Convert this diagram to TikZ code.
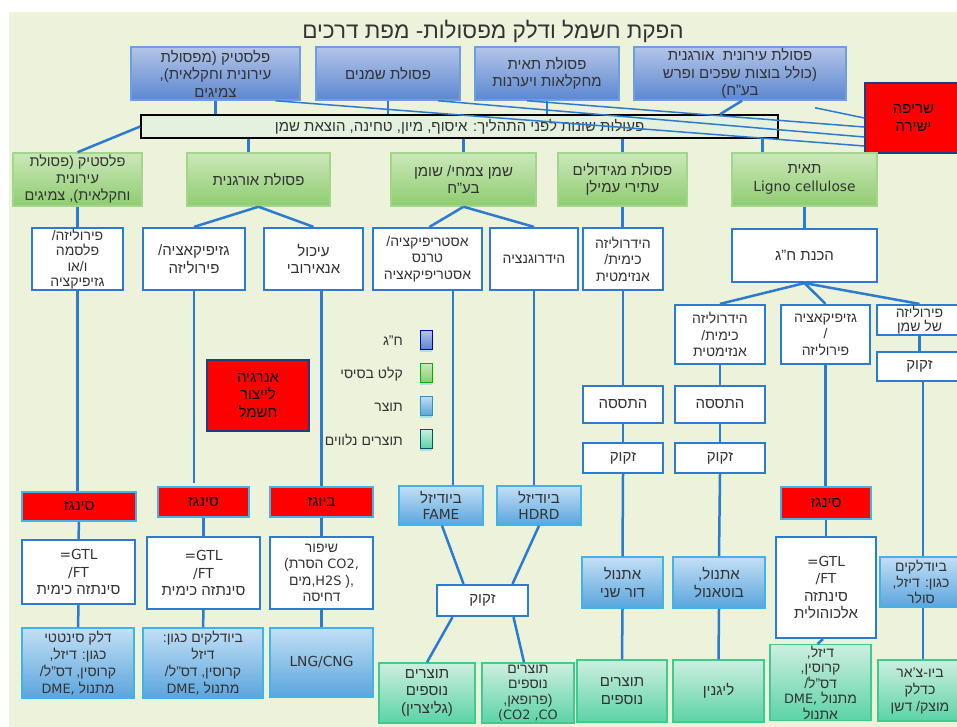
\documentclass[tikz,border=0pt]{standalone}
\usepackage{fontspec}
\setmainfont{Liberation Sans}[Script=Hebrew]
\newfontfamily\latfont{DejaVu Sans}[Scale=0.92]
\newfontfamily\plainfont{Liberation Sans}
\TeXXeTstate=1
\usetikzlibrary{positioning}
\usetikzlibrary{shadows}
\newcommand{\rl}[1]{\beginR#1\endR}
\definecolor{panel}{HTML}{EDF2DA}
\definecolor{txt}{HTML}{333333}
\definecolor{srctop}{HTML}{B3C5E8}
\definecolor{srcbot}{HTML}{5C87D1}
\definecolor{srcline}{HTML}{6C9FE0}
\definecolor{basetop}{HTML}{CBE8B9}
\definecolor{basebot}{HTML}{8ECC70}
\definecolor{baseline}{HTML}{A3D68A}
\definecolor{outtop}{HTML}{C3DFF5}
\definecolor{outbot}{HTML}{5AA5DD}
\definecolor{outline}{HTML}{3FB4E8}
\definecolor{bytop}{HTML}{CDEFE0}
\definecolor{bybot}{HTML}{5BD3A6}
\definecolor{byline}{HTML}{3DCB8E}
\definecolor{linkc}{HTML}{2B7BD3}
\definecolor{fireline}{HTML}{1F3C88}
\definecolor{prepfill}{HTML}{E4F1DF}
\definecolor{glow}{HTML}{7FD8F5}

\begin{document}
\begin{tikzpicture}[x=1pt, y=-1pt,
  every node/.style={align=center, inner sep=1pt, text=txt, font=\fontsize{15}{17.5}\selectfont},
  src/.style={draw=srcline, line width=1.5pt, top color=srctop, bottom color=srcbot},
  base/.style={draw=baseline, line width=1.5pt, top color=basetop, bottom color=basebot},
  proc/.style={draw=linkc, line width=2.2pt, fill=white},
  fire/.style={draw=#1, line width=1.6pt, fill=red, text=black},
  fire/.default=outline,
  outp/.style={draw=outline, line width=1.5pt, top color=outtop, bottom color=outbot},
  byp/.style={draw=byline, line width=1.5pt, top color=bytop, bottom color=bybot},
  legbox/.style={draw=#1!70!black, line width=.6pt, minimum width=12, minimum height=19,
    drop shadow={shadow xshift=0pt, shadow yshift=-3pt, fill=glow, opacity=.6}},
  link/.style={draw=linkc, line width=2.5pt},
  thin/.style={draw=linkc, line width=1.5pt}]

\useasboundingbox (0,0) rectangle (957,727);
\fill[white] (0,0) rectangle (957,727);
\fill[panel] (9,12) rectangle (957,727);

\node[font=\fontsize{22.5}{26}\selectfont] (title) at (493,31) {\rl{הפקת חשמל ודלק מפסולות- מפת דרכים}};

% raw waste
\node[src, minimum width=169, minimum height=53] (plast) at (215.5,73.5) {\rl{פלסטיק (מפסולת}\\\rl{עירונית וחקלאית),}\\\rl{צמיגים}};
\node[src, minimum width=144, minimum height=53] (oil) at (388,73.5) {\rl{פסולת שמנים}};
\node[src, minimum width=144, minimum height=53] (cell) at (547,73.5) {\rl{פסולת תאית}\\\rl{מחקלאות ויערנות}};
\node[src, minimum width=212, minimum height=53] (muni) at (740,73.5) {\rl{פסולת עירונית\ \ אורגנית}\\\rl{(כולל בוצות שפכים ופרש}\\\rl{בע"ח)}};
\node[fire=fireline, minimum width=97, minimum height=70] (burn) at (913.5,118) {\rl{שריפה}\\\rl{ישירה}};

\node[draw=black, line width=1.5pt, fill=prepfill, minimum width=637, minimum height=23, font=\fontsize{15}{16}\selectfont] (prep) at (459.5,126.5) {\rl{פעולות שונות לפני התהליך: איסוף, מיון, טחינה, הוצאת שמן}};

% feedstock
\node[base, minimum width=129, minimum height=53, font=\fontsize{14.5}{17}\selectfont] (plast2) at (77.5,179.5) {\rl{פלסטיק (פסולת}\\\rl{עירונית}\\\rl{וחקלאית), צמיגים}};
\node[base, minimum width=143, minimum height=53] (organic) at (258.5,179.5) {\rl{פסולת אורגנית}};
\node[base, minimum width=145, minimum height=53] (fat) at (463.5,179.5) {\rl{שמן צמחי/ שומן}\\\rl{בע"ח}};
\node[base, minimum width=129, minimum height=53] (starch) at (622.5,179.5) {\rl{פסולת מגידולים}\\\rl{עתירי עמילן}};
\node[base, minimum width=145, minimum height=53] (ligno) at (804.5,179.5) {\rl{תאית}\\{\latfont Ligno cellulose}};

% processes
\node[proc, minimum width=91, minimum height=62, font=\fontsize{14}{15.5}\selectfont] (pyro1) at (77.5,259) {\rl{פירוליזה/}\\\rl{פלסמה}\\\rl{ו/או}\\\rl{גזיפיקציה}};
\node[proc, minimum width=102, minimum height=62] (gas2) at (194,259) {\rl{גזיפיקאציה/}\\\rl{פירוליזה}};
\node[proc, minimum width=99, minimum height=62] (anaer) at (313.5,259) {\rl{עיכול}\\\rl{אנאירובי}};
\node[proc, minimum width=109, minimum height=62, font=\fontsize{14}{16.5}\selectfont] (ester) at (427.5,259) {\rl{אסטריפיקציה/}\\\rl{טרנס}\\\rl{אסטריפיקאציה}};
\node[proc, minimum width=88, minimum height=62, font=\fontsize{14}{16.5}\selectfont] (hydrog) at (534,259) {\rl{הידרוגנציה}};
\node[proc, minimum width=80, minimum height=62, font=\fontsize{14}{16.5}\selectfont] (hydrol1) at (623,259) {\rl{הידרוליזה}\\\rl{כימית/}\\\rl{אנזימטית}};
\node[proc, minimum width=145, minimum height=53] (prepsug) at (804.5,255.5) {\rl{הכנת ח"ג}};

\node[proc, minimum width=90, minimum height=59, font=\fontsize{14}{16.5}\selectfont] (hydrol2) at (720,334.5) {\rl{הידרוליזה}\\\rl{כימית/}\\\rl{אנזימטית}};
\node[proc, minimum width=89, minimum height=59, font=\fontsize{14}{16.5}\selectfont] (gas3) at (825.5,334.5) {\rl{גזיפיקאציה}\\{\plainfont /}\\\rl{פירוליזה}};
\node[proc, minimum width=85, minimum height=30, font=\fontsize{14}{14}\selectfont] (pyroil) at (919.5,320) {\rl{פירוליזה}\\\rl{של שמן}};
\node[proc, minimum width=85, minimum height=29] (zik3) at (919.5,366.5) {\rl{זקוק}};

\node[proc, minimum width=80, minimum height=37] (ferm1) at (623,404.5) {\rl{התססה}};
\node[proc, minimum width=80, minimum height=30] (zik1) at (623,458) {\rl{זקוק}};
\node[proc, minimum width=90, minimum height=37] (ferm2) at (720,404.5) {\rl{התססה}};
\node[proc, minimum width=90, minimum height=30] (zik2) at (720,458) {\rl{זקוק}};

\node[fire=fireline, minimum width=102, minimum height=71] (energy) at (258,395.5) {\rl{אנרגיה}\\\rl{לייצור}\\\rl{חשמל}};

% legend
\node[legbox=blue, top color=srctop, bottom color=srcbot] (lgsrc) at (426,339.5) {};
\node[legbox=green, top color=basetop, bottom color=basebot] (lgbase) at (426,372.5) {};
\node[legbox=cyan, top color=outtop, bottom color=outbot] (lgout) at (426,405.5) {};
\node[legbox=teal, top color=bytop, bottom color=bybot] (lgby) at (426,438.5) {};
\node[anchor=east, font=\fontsize{14}{16}\selectfont] (lgsrct) at (404,341) {\rl{ח"ג}};
\node[anchor=east, font=\fontsize{14}{16}\selectfont] (lgbaset) at (404,374) {\rl{קלט בסיסי}};
\node[anchor=east, font=\fontsize{14}{16}\selectfont] (lgoutt) at (404,407) {\rl{תוצר}};
\node[anchor=east, font=\fontsize{14}{16}\selectfont] (lgbyt) at (404,440) {\rl{תוצרים נלווים}};

% gases and biodiesel
\node[fire, minimum width=114, minimum height=29] (syn1) at (79,506.5) {\rl{סינגז}};
\node[fire, minimum width=91, minimum height=30] (syn2) at (203.5,502) {\rl{סינגז}};
\node[fire, minimum width=103, minimum height=30] (biogas) at (321.5,502) {\rl{ביוגז}};
\node[outp, minimum width=84, minimum height=39, font=\fontsize{15}{16}\selectfont] (fame) at (441,505.5) {\rl{ביודיזל}\\{\latfont FAME}};
\node[outp, minimum width=84, minimum height=39, font=\fontsize{15}{16}\selectfont] (hdrd) at (539,505.5) {\rl{ביודיזל}\\{\latfont HDRD}};
\node[fire, minimum width=90, minimum height=32] (syn3) at (826,503) {\rl{סינגז}};

\node[proc, minimum width=113, minimum height=64] (gtl1) at (78.5,572) {{\latfont =GTL}\\{\latfont /FT}\\\rl{סינתזה כימית}};
\node[proc, minimum width=113, minimum height=72] (gtl2) at (203.5,573) {{\latfont =GTL}\\{\latfont /FT}\\\rl{סינתזה כימית}};
\node[proc, minimum width=103, minimum height=72, font=\fontsize{14}{16.5}\selectfont] (upgr) at (321.5,573) {\rl{שיפור}\\{\plainfont (}\rl{הסרת} {\latfont CO2,}\\\rl{מים}{\plainfont ,}{\latfont H2S} {\plainfont ),}\\\rl{דחיסה}};
\node[proc, minimum width=91, minimum height=31] (zikc) at (482.5,600.5) {\rl{זקוק}};
\node[proc, minimum width=100, minimum height=101] (gtl3) at (826,587.5) {{\latfont =GTL}\\{\latfont /FT}\\\rl{סינתזה}\\\rl{אלכוהולית}};

% products
\node[outp, minimum width=81, minimum height=51] (eth2) at (622.5,582.5) {\rl{אתנול}\\\rl{דור שני}};
\node[outp, minimum width=92, minimum height=51] (ethbut) at (719,582.5) {\rl{אתנול,}\\\rl{בוטאנול}};
\node[outp, minimum width=82, minimum height=50, font=\fontsize{14}{16}\selectfont] (fuelr) at (921,582) {\rl{ביודלקים}\\\rl{כגון: דיזל,}\\\rl{סולר}};
\node[outp, minimum width=112, minimum height=70, font=\fontsize{14}{17}\selectfont] (fuel1) at (78,663) {\rl{דלק סינטטי}\\\rl{כגון: דיזל,}\\\rl{קרוסין, דס"ל/}\\{\latfont DME,} \rl{מתנול}};
\node[outp, minimum width=120, minimum height=70, font=\fontsize{14}{17}\selectfont] (fuel2) at (203,663) {\rl{ביודלקים כגון:}\\\rl{דיזל}\\\rl{קרוסין, דס"ל/}\\{\latfont DME,} \rl{מתנול}};
\node[outp, minimum width=103, minimum height=69] (lng) at (321.5,662.5) {{\latfont LNG/CNG}};

\node[byp, minimum width=96, minimum height=60] (glyc) at (427,693) {\rl{תוצרים}\\\rl{נוספים}\\\rl{(גליצרין)}};
\node[byp, minimum width=92, minimum height=60, font=\fontsize{14}{15.5}\selectfont] (prop) at (528,693) {\rl{תוצרים}\\\rl{נוספים}\\\rl{(פרופאן,}\\{\latfont (CO2 ,CO}};
\node[byp, minimum width=90, minimum height=62] (more) at (622,691) {\rl{תוצרים}\\\rl{נוספים}};
\node[byp, minimum width=91, minimum height=62] (lignin) at (718.5,691) {\rl{ליגנין}};
\node[byp, minimum width=101, minimum height=75, font=\fontsize{14}{15.5}\selectfont] (fuel3) at (820.5,682.5) {\rl{דיזל,}\\\rl{קרוסין,}\\\rl{דס"ל/}\\{\latfont DME,} \rl{מתנול}\\\rl{אתנול}};
\node[byp, minimum width=84, minimum height=61, font=\fontsize{14}{17}\selectfont] (biochar) at (920,690.5) {\rl{ביו-צ'אר}\\\rl{כדלק}\\\rl{מוצק/ דשן}};

% connectors
\draw[link] (plast.south) -- (plast.south |- prep.north);
\draw[link] (oil.south) -- (oil.south |- prep.north);
\draw[link] (cell.south) -- (cell.south |- prep.north);
\draw[link] ([xshift=2]muni.south) -- ([xshift=-20]muni.south |- prep.north);
\draw[thin] ([xshift=60]plast.south) -- ([yshift=-28]burn.west);
\draw[thin] ([xshift=50]oil.south) -- ([yshift=-19]burn.west);
\draw[thin] ([xshift=-20]cell.south) -- ([yshift=-9]burn.west);
\draw[thin] ([xshift=75,yshift=-7]muni.south) -- ([yshift=0]burn.west);

\draw[link] (prep.west) -- (plast2.north);
\draw[link] ([xshift=-10]organic.north) -- ([xshift=-10]organic.north |- prep.south);
\draw[link] (fat.north) -- (fat.north |- prep.south);
\draw[link] (starch.north) -- (starch.north |- prep.south);
\draw[link] ([xshift=-42]ligno.north) -- ([xshift=-42]ligno.north |- prep.south);

\draw[link] (plast2.south) -- (pyro1.north);
\draw[link] (organic.south) -- (gas2.north);
\draw[link] (organic.south) -- (anaer.north);
\draw[link] (fat.south) -- ([xshift=2]ester.north);
\draw[link] (fat.south) -- (hydrog.north);
\draw[link] (starch.south) -- (starch.south |- hydrol1.north);
\draw[link] (ligno.south) -- (prepsug.north);
\draw[link] (prepsug.south) -- (hydrol2.north);
\draw[link] (prepsug.south) -- (gas3.north);
\draw[link] (prepsug.south) -- (pyroil.north);
\draw[link] (pyroil.south) -- (zik3.north);

\draw[link] (pyro1.south) -- (pyro1.south |- syn1.north);
\draw[link] (gas2.south) -- ([yshift=3]gas2.south |- syn2.north);
\draw[link] (biogas.north |- anaer.south) -- (biogas.north);
\draw[link] ([xshift=12]fame.north |- ester.south) -- ([xshift=12]fame.north);
\draw[link] (hydrog.south) -- (hydrog.south |- hdrd.north);
\draw[link] (hydrol1.south) -- (ferm1.north);
\draw[link] (ferm1.south) -- (zik1.north);
\draw[link] (zik1.south) -- (eth2.north);
\draw[link] (eth2.south) -- (more.north);
\draw[link] (hydrol2.south) -- (ferm2.north);
\draw[link] (ferm2.south) -- (zik2.north);
\draw[link] (zik2.south) -- (ethbut.north);
\draw[link] (ethbut.south) -- (lignin.north);
\draw[link] (gas3.south) -- (gas3.south |- syn3.north);
\draw[link] (syn3.south) -- (gtl3.north);
\draw[link] ([xshift=-3]gtl3.south) -- ([xshift=-3]fuel3.north);
\draw[link] ([xshift=3.5]zik3.south) -- ([xshift=2]fuelr.north);
\draw[link] ([xshift=2]fuelr.south) -- ([xshift=3]biochar.north);

\draw[link] (syn1.south) -- (gtl1.north);
\draw[link] (gtl1.south) -- (fuel1.north);
\draw[link] (syn2.south) -- (gtl2.north);
\draw[link] (gtl2.south) -- (fuel2.north);
\draw[link] (biogas.south) -- (upgr.north);
\draw[link] (upgr.south) -- (lng.north);
\draw[link] ([xshift=1]fame.south) -- ([xshift=-19]zikc.north);
\draw[link] (hdrd.south) -- ([xshift=30]zikc.north);
\draw[link] ([xshift=-30]zikc.south) -- (glyc.north);
\draw[link] ([xshift=31]zikc.south) -- ([xshift=-4]prop.north);
\end{tikzpicture}
\end{document}
